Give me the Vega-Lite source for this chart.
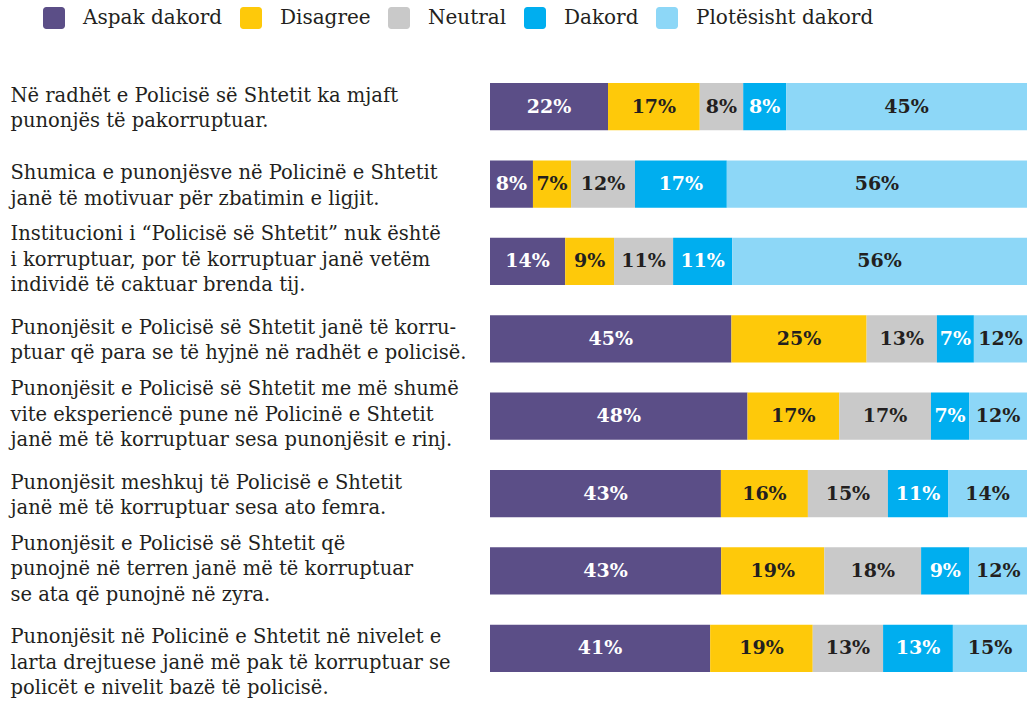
{
  "$schema": "https://vega.github.io/schema/vega-lite/v6.json",
  "width": 537,
  "height": 619,
  "autosize": {"type": "none"},
  "padding": {"left": 490, "top": 68, "right": 8, "bottom": 15},
  "background": "white",
  "config": {
    "view": {"stroke": null},
    "font": "DejaVu Serif"
  },
  "data": {
    "values": [
      {"q": "Në radhët e Policisë së Shtetit ka mjaft|punonjës të pakorruptuar.", "cat": "Aspak dakord", "k": 1, "share": 22.0, "label": "22%"},
      {"q": "Në radhët e Policisë së Shtetit ka mjaft|punonjës të pakorruptuar.", "cat": "Disagree", "k": 2, "share": 17.1, "label": "17%"},
      {"q": "Në radhët e Policisë së Shtetit ka mjaft|punonjës të pakorruptuar.", "cat": "Neutral", "k": 3, "share": 8.1, "label": "8%"},
      {"q": "Në radhët e Policisë së Shtetit ka mjaft|punonjës të pakorruptuar.", "cat": "Dakord", "k": 4, "share": 8.0, "label": "8%"},
      {"q": "Në radhët e Policisë së Shtetit ka mjaft|punonjës të pakorruptuar.", "cat": "Plotësisht dakord", "k": 5, "share": 44.9, "label": "45%"},

      {"q": "Shumica e punonjësve në Policinë e Shtetit|janë të motivuar për zbatimin e ligjit.", "cat": "Aspak dakord", "k": 1, "share": 8.0, "label": "8%"},
      {"q": "Shumica e punonjësve në Policinë e Shtetit|janë të motivuar për zbatimin e ligjit.", "cat": "Disagree", "k": 2, "share": 7.1, "label": "7%"},
      {"q": "Shumica e punonjësve në Policinë e Shtetit|janë të motivuar për zbatimin e ligjit.", "cat": "Neutral", "k": 3, "share": 11.9, "label": "12%"},
      {"q": "Shumica e punonjësve në Policinë e Shtetit|janë të motivuar për zbatimin e ligjit.", "cat": "Dakord", "k": 4, "share": 17.1, "label": "17%"},
      {"q": "Shumica e punonjësve në Policinë e Shtetit|janë të motivuar për zbatimin e ligjit.", "cat": "Plotësisht dakord", "k": 5, "share": 55.9, "label": "56%"},

      {"q": "Institucioni i “Policisë së Shtetit” nuk është|i korruptuar, por të korruptuar janë vetëm|individë të caktuar brenda tij.", "cat": "Aspak dakord", "k": 1, "share": 14.0, "label": "14%"},
      {"q": "Institucioni i “Policisë së Shtetit” nuk është|i korruptuar, por të korruptuar janë vetëm|individë të caktuar brenda tij.", "cat": "Disagree", "k": 2, "share": 9.1, "label": "9%"},
      {"q": "Institucioni i “Policisë së Shtetit” nuk është|i korruptuar, por të korruptuar janë vetëm|individë të caktuar brenda tij.", "cat": "Neutral", "k": 3, "share": 11.0, "label": "11%"},
      {"q": "Institucioni i “Policisë së Shtetit” nuk është|i korruptuar, por të korruptuar janë vetëm|individë të caktuar brenda tij.", "cat": "Dakord", "k": 4, "share": 11.0, "label": "11%"},
      {"q": "Institucioni i “Policisë së Shtetit” nuk është|i korruptuar, por të korruptuar janë vetëm|individë të caktuar brenda tij.", "cat": "Plotësisht dakord", "k": 5, "share": 54.9, "label": "56%"},

      {"q": "Punonjësit e Policisë së Shtetit janë të korru-|ptuar që para se të hyjnë në radhët e policisë.", "cat": "Aspak dakord", "k": 1, "share": 45.0, "label": "45%"},
      {"q": "Punonjësit e Policisë së Shtetit janë të korru-|ptuar që para se të hyjnë në radhët e policisë.", "cat": "Disagree", "k": 2, "share": 25.2, "label": "25%"},
      {"q": "Punonjësit e Policisë së Shtetit janë të korru-|ptuar që para se të hyjnë në radhët e policisë.", "cat": "Neutral", "k": 3, "share": 13.1, "label": "13%"},
      {"q": "Punonjësit e Policisë së Shtetit janë të korru-|ptuar që para se të hyjnë në radhët e policisë.", "cat": "Dakord", "k": 4, "share": 6.9, "label": "7%"},
      {"q": "Punonjësit e Policisë së Shtetit janë të korru-|ptuar që para se të hyjnë në radhët e policisë.", "cat": "Plotësisht dakord", "k": 5, "share": 9.9, "label": "12%"},

      {"q": "Punonjësit e Policisë së Shtetit me më shumë|vite eksperiencë pune në Policinë e Shtetit|janë më të korruptuar sesa punonjësit e rinj.", "cat": "Aspak dakord", "k": 1, "share": 48.0, "label": "48%"},
      {"q": "Punonjësit e Policisë së Shtetit me më shumë|vite eksperiencë pune në Policinë e Shtetit|janë më të korruptuar sesa punonjësit e rinj.", "cat": "Disagree", "k": 2, "share": 17.1, "label": "17%"},
      {"q": "Punonjësit e Policisë së Shtetit me më shumë|vite eksperiencë pune në Policinë e Shtetit|janë më të korruptuar sesa punonjësit e rinj.", "cat": "Neutral", "k": 3, "share": 17.1, "label": "17%"},
      {"q": "Punonjësit e Policisë së Shtetit me më shumë|vite eksperiencë pune në Policinë e Shtetit|janë më të korruptuar sesa punonjësit e rinj.", "cat": "Dakord", "k": 4, "share": 7.1, "label": "7%"},
      {"q": "Punonjësit e Policisë së Shtetit me më shumë|vite eksperiencë pune në Policinë e Shtetit|janë më të korruptuar sesa punonjësit e rinj.", "cat": "Plotësisht dakord", "k": 5, "share": 10.8, "label": "12%"},

      {"q": "Punonjësit meshkuj të Policisë e Shtetit|janë më të korruptuar sesa ato femra.", "cat": "Aspak dakord", "k": 1, "share": 43.0, "label": "43%"},
      {"q": "Punonjësit meshkuj të Policisë e Shtetit|janë më të korruptuar sesa ato femra.", "cat": "Disagree", "k": 2, "share": 16.2, "label": "16%"},
      {"q": "Punonjësit meshkuj të Policisë e Shtetit|janë më të korruptuar sesa ato femra.", "cat": "Neutral", "k": 3, "share": 14.9, "label": "15%"},
      {"q": "Punonjësit meshkuj të Policisë e Shtetit|janë më të korruptuar sesa ato femra.", "cat": "Dakord", "k": 4, "share": 11.2, "label": "11%"},
      {"q": "Punonjësit meshkuj të Policisë e Shtetit|janë më të korruptuar sesa ato femra.", "cat": "Plotësisht dakord", "k": 5, "share": 14.7, "label": "14%"},

      {"q": "Punonjësit e Policisë së Shtetit që|punojnë në terren janë më të korruptuar|se ata që punojnë në zyra.", "cat": "Aspak dakord", "k": 1, "share": 43.0, "label": "43%"},
      {"q": "Punonjësit e Policisë së Shtetit që|punojnë në terren janë më të korruptuar|se ata që punojnë në zyra.", "cat": "Disagree", "k": 2, "share": 19.2, "label": "19%"},
      {"q": "Punonjësit e Policisë së Shtetit që|punojnë në terren janë më të korruptuar|se ata që punojnë në zyra.", "cat": "Neutral", "k": 3, "share": 18.0, "label": "18%"},
      {"q": "Punonjësit e Policisë së Shtetit që|punojnë në terren janë më të korruptuar|se ata që punojnë në zyra.", "cat": "Dakord", "k": 4, "share": 9.0, "label": "9%"},
      {"q": "Punonjësit e Policisë së Shtetit që|punojnë në terren janë më të korruptuar|se ata që punojnë në zyra.", "cat": "Plotësisht dakord", "k": 5, "share": 10.7, "label": "12%"},

      {"q": "Punonjësit në Policinë e Shtetit në nivelet e|larta drejtuese janë më pak të korruptuar se|policët e nivelit bazë të policisë.", "cat": "Aspak dakord", "k": 1, "share": 41.0, "label": "41%"},
      {"q": "Punonjësit në Policinë e Shtetit në nivelet e|larta drejtuese janë më pak të korruptuar se|policët e nivelit bazë të policisë.", "cat": "Disagree", "k": 2, "share": 19.1, "label": "19%"},
      {"q": "Punonjësit në Policinë e Shtetit në nivelet e|larta drejtuese janë më pak të korruptuar se|policët e nivelit bazë të policisë.", "cat": "Neutral", "k": 3, "share": 13.1, "label": "13%"},
      {"q": "Punonjësit në Policinë e Shtetit në nivelet e|larta drejtuese janë më pak të korruptuar se|policët e nivelit bazë të policisë.", "cat": "Dakord", "k": 4, "share": 13.0, "label": "13%"},
      {"q": "Punonjësit në Policinë e Shtetit në nivelet e|larta drejtuese janë më pak të korruptuar se|policët e nivelit bazë të policisë.", "cat": "Plotësisht dakord", "k": 5, "share": 13.8, "label": "15%"}
    ]
  },
  "encoding": {
    "y": {
      "field": "q",
      "type": "nominal",
      "sort": null,
      "scale": {"paddingInner": 0.39, "paddingOuter": 0.195},
      "axis": {
        "title": null,
        "domain": false,
        "ticks": false,
        "tickSize": 0,
        "labelAlign": "left",
        "labelBaseline": "middle",
        "labelPadding": 480,
        "labelLimit": 480,
        "labelFont": "DejaVu Serif",
        "labelFontSize": 19.5,
        "labelLineHeight": 25.5,
        "labelColor": "#231f20",
        "labelOffset": {
          "condition": {"test": "indexof(datum.value, 'Institucioni') >= 0 || indexof(datum.value, 'me më shumë') >= 0 || indexof(datum.value, 'terren') >= 0", "value": -27},
          "value": -11
        },
        "labelExpr": "split(datum.label, '|')"
      }
    },
    "x": {
      "field": "share",
      "type": "quantitative",
      "stack": "normalize",
      "axis": null
    },
    "order": {"field": "k", "type": "quantitative"}
  },
  "layer": [
    {
      "mark": {"type": "bar"},
      "encoding": {
        "color": {
          "field": "cat",
          "type": "nominal",
          "scale": {
            "domain": ["Aspak dakord", "Disagree", "Neutral", "Dakord", "Plotësisht dakord"],
            "range": ["#5b4e87", "#fec90a", "#c9c9c9", "#00aeef", "#8dd7f7"]
          },
          "legend": {
            "title": null,
            "orient": "none",
            "direction": "horizontal",
            "legendX": -447,
            "legendY": -61,
            "padding": 0,
            "columnPadding": 17,
            "symbolType": "M-0.7,-1H0.7A0.3,0.3 0 0 1 1,-0.7V0.7A0.3,0.3 0 0 1 0.7,1H-0.7A0.3,0.3 0 0 1 -1,0.7V-0.7A0.3,0.3 0 0 1 -0.7,-1Z",
            "symbolSize": 484,
            "symbolStrokeWidth": 0,
            "symbolOpacity": 1,
            "labelFont": "DejaVu Serif",
            "labelFontSize": 20,
            "labelLimit": 400,
            "labelColor": "#231f20",
            "labelOffset": 18
          }
        }
      }
    },
    {
      "mark": {"type": "text", "font": "DejaVu Serif", "fontWeight": "bold", "fontSize": 19, "baseline": "middle", "align": "center"},
      "encoding": {
        "x": {"field": "share", "type": "quantitative", "stack": "normalize", "bandPosition": 0.5},
        "detail": {"field": "cat", "type": "nominal"},
        "text": {"field": "label", "type": "nominal"},
        "color": {
          "condition": {"test": "datum.cat === 'Aspak dakord' || datum.cat === 'Dakord'", "value": "#ffffff"},
          "value": "#231f20"
        }
      }
    }
  ]
}
